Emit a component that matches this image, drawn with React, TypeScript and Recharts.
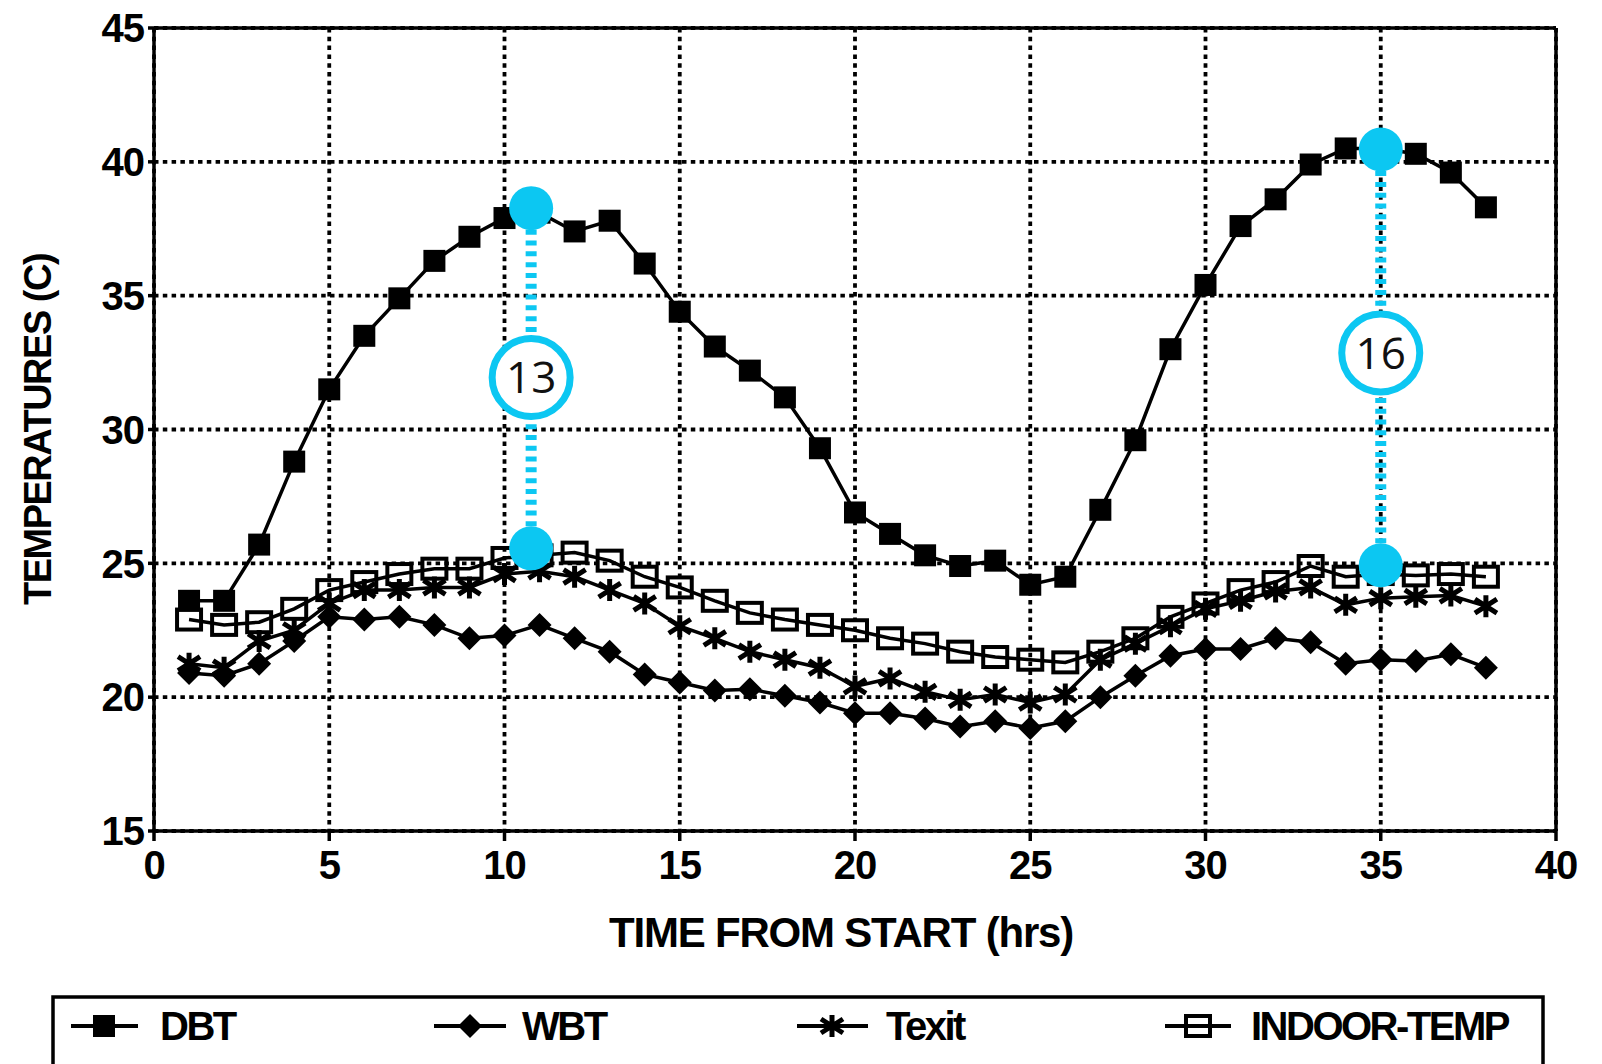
import React from "react";
import {
  LineChart,
  Line,
  XAxis,
  YAxis,
  CartesianGrid,
  ReferenceLine,
  ReferenceDot,
  Label,
} from "recharts";

const HOURS = [
  1, 2, 3, 4, 5, 6, 7, 8, 9, 10, 11, 12, 13, 14, 15, 16, 17, 18, 19, 20, 21, 22, 23, 24, 25, 26, 27, 28, 29, 30, 31,
  32, 33, 34, 35, 36, 37, 38,
];
const DBT = [
  23.6, 23.6, 25.7, 28.8, 31.5, 33.5, 34.9, 36.3, 37.2, 37.9, 38.1, 37.4, 37.8, 36.2, 34.4, 33.1, 32.2, 31.2, 29.3,
  26.9, 26.1, 25.3, 24.9, 25.1, 24.2, 24.5, 27.0, 29.6, 33.0, 35.4, 37.6, 38.6, 39.9, 40.5, 40.5, 40.3, 39.6, 38.3,
];
const WBT = [
  20.9, 20.8, 21.25, 22.1, 23.0, 22.9, 23.0, 22.7, 22.2, 22.3, 22.7, 22.2, 21.7, 20.85, 20.55, 20.25, 20.3, 20.05, 19.8,
  19.4, 19.4, 19.2, 18.9, 19.1, 18.85, 19.1, 20.0, 20.8, 21.55, 21.8, 21.8, 22.2, 22.05, 21.25, 21.4, 21.35, 21.6, 21.1,
];
const TEXIT = [
  21.25, 21.1, 22.1, 22.5, 23.5, 24.0, 24.0, 24.1, 24.1, 24.6, 24.7, 24.5, 24.0, 23.5, 22.65, 22.2, 21.7, 21.4, 21.1,
  20.4, 20.7, 20.2, 19.9, 20.1, 19.8, 20.1, 21.4, 22.0, 22.65, 23.3, 23.6, 23.95, 24.1, 23.45, 23.7, 23.75, 23.8, 23.4,
];
const INDOOR = [
  22.9, 22.7, 22.8, 23.3, 24.0, 24.3, 24.6, 24.8, 24.8, 25.2, 25.3, 25.4, 25.1, 24.5, 24.1, 23.6, 23.15, 22.9, 22.7,
  22.5, 22.2, 22.0, 21.7, 21.5, 21.4, 21.3, 21.7, 22.2, 23.0, 23.5, 24.0, 24.3, 24.9, 24.5, 24.6, 24.55, 24.6, 24.5,
];

const X_TICKS = [0, 5, 10, 15, 20, 25, 30, 35, 40];
const Y_TICKS = [15, 20, 25, 30, 35, 40, 45];

// cyan callouts: DBT peak vs indoor temp
const GAP_HOURS = [10.76, 35];
const GAP_TOP = [38.27, 40.46];
const GAP_BOTTOM = [25.56, 24.93];
const GAP_LABEL_AT = [31.94, 32.86];
const GAP_LABELS = ["13", "16"];

const data = HOURS.map((h, i) => ({
  hour: h,
  dbt: DBT[i],
  wbt: WBT[i],
  texit: TEXIT[i],
  indoor: INDOOR[i],
}));

const FONT = '"Liberation Sans", Arial, Helvetica, sans-serif';
const CYAN = "#0cc7f2";

function FilledSquare({ cx, cy, index }: any) {
  if (cx == null || cy == null) return null;
  return <rect key={`dbt-${index}`} x={cx - 11} y={cy - 11} width={22} height={22} fill="#000" />;
}

function Diamond({ cx, cy, index }: any) {
  if (cx == null || cy == null) return null;
  return (
    <path
      key={`wbt-${index}`}
      d={`M${cx} ${cy - 12} L${cx + 12} ${cy} L${cx} ${cy + 12} L${cx - 12} ${cy} Z`}
      fill="#000"
    />
  );
}

function Asterisk({ cx, cy, index }: any) {
  if (cx == null || cy == null) return null;
  return (
    <path
      key={`tex-${index}`}
      d={`M${cx} ${cy - 11} V${cy + 11} M${cx - 11} ${cy - 7} L${cx + 11} ${cy + 7} M${cx - 11} ${cy + 7} L${cx + 11} ${cy - 7}`}
      stroke="#000"
      strokeWidth={5}
    />
  );
}

function OpenSquare({ cx, cy, index }: any) {
  if (cx == null || cy == null) return null;
  return (
    <rect
      key={`in-${index}`}
      x={cx - 12}
      y={cy - 10}
      width={24}
      height={20}
      fill="none"
      stroke="#000"
      strokeWidth={4}
    />
  );
}

function XTitle({ viewBox }: any) {
  const { x, y, width } = viewBox;
  return (
    <text
      x={x + width / 2 - 14}
      y={y + 116}
      textAnchor="middle"
      fontFamily={FONT}
      fontWeight={700}
      fontSize={42}
      letterSpacing={-1.2}
      fill="#000"
    >
      TIME FROM START (hrs)
    </text>
  );
}

function YTitle({ viewBox }: any) {
  const { x, y, height } = viewBox;
  const tx = x - 56;
  const ty = y + height / 2;
  return (
    <text
      x={tx}
      y={ty}
      transform={`rotate(-90 ${tx} ${ty})`}
      textAnchor="middle"
      dominantBaseline="central"
      fontFamily={FONT}
      fontWeight={700}
      fontSize={38}
      letterSpacing={-1.5}
      fill="#000"
    >
      TEMPERATURES (C)
    </text>
  );
}

function LegendBox() {
  const y = 1026;
  const textStyle = {
    fontFamily: FONT,
    fontWeight: 700,
    fontSize: 40,
    letterSpacing: -2.5,
  };
  return (
    <svg width={1602} height={1064} style={{ position: "absolute", left: 0, top: 0, pointerEvents: "none" }}>
      <rect x={53} y={997} width={1490} height={110} fill="none" stroke="#000" strokeWidth={3.5} />
      <line x1={71} x2={138} y1={y} y2={y} stroke="#000" strokeWidth={4} />
      <FilledSquare cx={104} cy={y} index="lg" />
      <text x={160} y={y} dominantBaseline="central" style={textStyle}>
        DBT
      </text>
      <line x1={434} x2={506} y1={y} y2={y} stroke="#000" strokeWidth={4} />
      <Diamond cx={470} cy={y} index="lg" />
      <text x={522} y={y} dominantBaseline="central" style={textStyle}>
        WBT
      </text>
      <line x1={797} x2={868} y1={y} y2={y} stroke="#000" strokeWidth={4} />
      <Asterisk cx={832} cy={y} index="lg" />
      <text x={886} y={y} dominantBaseline="central" style={textStyle}>
        Texit
      </text>
      <line x1={1165} x2={1231} y1={y} y2={y} stroke="#000" strokeWidth={4} />
      <OpenSquare cx={1198} cy={y} index="lg" />
      <text x={1251} y={y} dominantBaseline="central" style={textStyle}>
        INDOOR-TEMP
      </text>
    </svg>
  );
}

export default function App() {
  const tick = { fill: "#000", fontSize: 40, fontWeight: 700, fontFamily: FONT, letterSpacing: -1 };
  const axisLine = { stroke: "#000", strokeWidth: 3.5 };
  return (
    <div
      style={{
        position: "absolute",
        left: 0,
        top: 0,
        width: 1602,
        height: 1064,
        overflow: "hidden",
        background: "#fff",
      }}
    >
      <LineChart width={1602} height={1064} data={data} margin={{ top: 28, right: 46, bottom: 113, left: 94 }}>
        <CartesianGrid stroke="#000" strokeWidth={3.8} strokeDasharray="4.5 4.3" />
        <XAxis
          type="number"
          dataKey="hour"
          domain={[0, 40]}
          ticks={X_TICKS}
          interval={0}
          height={120}
          tickSize={10}
          tickMargin={10}
          axisLine={axisLine}
          tickLine={axisLine}
          tick={tick}
        >
          <Label content={XTitle} />
        </XAxis>
        <YAxis
          type="number"
          domain={[15, 45]}
          ticks={Y_TICKS}
          interval={0}
          width={60}
          tickSize={6}
          tickMargin={4}
          axisLine={axisLine}
          tickLine={axisLine}
          tick={tick}
        >
          <Label content={YTitle} />
        </YAxis>
        <ReferenceLine y={45} stroke="#000" strokeWidth={3.5} />
        <ReferenceLine x={40} stroke="#000" strokeWidth={3.5} />

        <Line dataKey="dbt" stroke="#000" strokeWidth={3.5} dot={FilledSquare} activeDot={false} isAnimationActive={false} />
        <Line dataKey="wbt" stroke="#000" strokeWidth={3.5} dot={Diamond} activeDot={false} isAnimationActive={false} />
        <Line dataKey="texit" stroke="#000" strokeWidth={3.5} dot={Asterisk} activeDot={false} isAnimationActive={false} />
        <Line dataKey="indoor" stroke="#000" strokeWidth={3.5} dot={OpenSquare} activeDot={false} isAnimationActive={false} />

        {GAP_HOURS.map((h, i) => (
          <ReferenceLine
            key={`gap-${i}`}
            segment={[
              { x: h, y: GAP_TOP[i] },
              { x: h, y: GAP_BOTTOM[i] },
            ]}
            stroke={CYAN}
            strokeWidth={11}
            strokeDasharray="5 5.8"
          />
        ))}
        {GAP_HOURS.map((h, i) => (
          <ReferenceDot key={`top-${i}`} x={h} y={GAP_TOP[i]} r={22} fill={CYAN} stroke="none" />
        ))}
        {GAP_HOURS.map((h, i) => (
          <ReferenceDot key={`bot-${i}`} x={h} y={GAP_BOTTOM[i]} r={22} fill={CYAN} stroke="none" />
        ))}
        {GAP_HOURS.map((h, i) => (
          <ReferenceDot
            key={`lbl-${i}`}
            x={h}
            y={GAP_LABEL_AT[i]}
            r={39}
            fill="#fff"
            stroke={CYAN}
            strokeWidth={7}
            label={{
              value: GAP_LABELS[i],
              position: "center",
              fill: "#111",
              fontSize: 44,
              fontFamily: '"Open Sans", "Noto Sans", sans-serif',
            }}
          />
        ))}
      </LineChart>
      <LegendBox />
    </div>
  );
}
